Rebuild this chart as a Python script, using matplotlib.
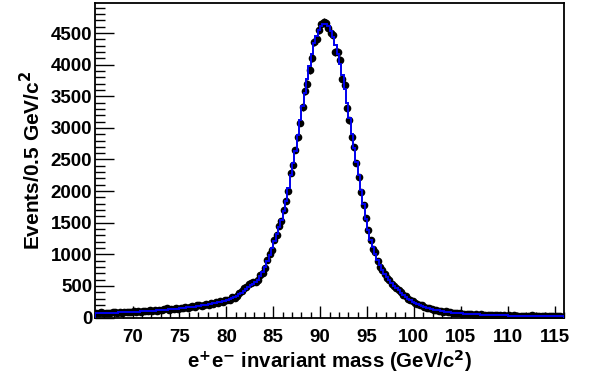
import numpy as np
import matplotlib
matplotlib.use("Agg")
import matplotlib.pyplot as plt
from matplotlib.ticker import MultipleLocator

# binning read from the point spacing: 200 bins between 66 and 116
bin_lo = 66.0
bin_hi = 116.0
n_bins = 200

# data points (events per bin)
counts = [75, 72, 80, 66, 74, 79, 70, 82,
          85, 73, 88, 77, 86, 80, 93, 84,
          95, 87, 99, 91, 104, 96, 99, 112,
          104, 116, 108, 121, 113, 129, 147, 122,
          137, 129, 146, 137, 153, 144, 162, 153,
          171, 176, 168, 190, 197, 183, 205, 211,
          200, 227, 216, 241, 231, 258, 250, 279,
          272, 284, 318, 315, 338, 385, 425, 460,
          485, 530, 548, 560,
          565, 590, 672, 700, 790, 910, 1000, 1070,
          1225, 1310, 1450, 1530, 1700, 1840, 2000, 2280,
          2410, 2650, 2850, 3080, 3330, 3580, 3700, 3915,
          4110, 4360, 4400, 4550, 4640, 4670,
          4660, 4580, 4500, 4470, 4200, 4200, 4070, 3780,
          3680, 3310, 3120, 2850, 2690, 2440, 2220, 1980,
          1775, 1570, 1380, 1220, 1090, 1030, 900, 800,
          745, 690, 620, 586, 530, 500, 460, 430,
          410, 350, 335, 290, 270, 255, 222, 215,
          190, 192, 172, 150, 143, 140, 120, 122,
          104, 110, 92, 97, 83, 86, 72, 79,
          66, 71, 63, 58, 62, 50, 57, 47,
          54, 44, 50, 40, 46, 37, 43, 34,
          41, 32, 38, 30, 36, 28, 34, 27,
          33, 25, 31, 24, 30, 23, 29, 22,
          36, 21, 27, 20, 26, 19, 25, 18,
          24, 17, 23, 16, 21, 15]

# fitted shape, drawn as the blue histogram
fit = [67, 68, 69, 70, 71, 72, 74, 75,
       77, 78, 80, 81, 83, 84, 86, 88,
       90, 92, 94, 96, 98, 100, 103, 105,
       108, 110, 113, 116, 119, 122, 125, 128,
       131, 135, 139, 142, 146, 150, 155, 159,
       164, 169, 174, 179, 185, 190, 196, 203,
       209, 216, 223, 230, 238, 247, 257, 268,
       279, 292, 307, 324, 344, 366, 395, 425,
       455, 485, 510, 535,
       560, 600, 650, 720, 800, 890, 990, 1100,
       1210, 1320, 1430, 1540, 1680, 1850, 2050, 2250,
       2440, 2640, 2880, 3120, 3340, 3550, 3770, 3980,
       4170, 4340, 4460, 4550, 4610, 4640,
       4645, 4610, 4540, 4440, 4310, 4170, 4010, 3830,
       3620, 3390, 3150, 2900, 2680, 2460, 2250, 2020,
       1790, 1560, 1380, 1230, 1110, 1000, 905, 825,
       755, 695, 640, 590, 545, 505, 468, 435,
       395, 360, 328, 298, 272, 248, 228, 210,
       194, 180, 167, 155, 145, 135, 126, 118,
       111, 104, 98, 92, 87, 82, 78, 74,
       70, 67, 64, 61, 58, 56, 53, 51,
       50, 48, 46, 44, 42, 41, 39, 38,
       37, 36, 35, 34, 33, 32, 31, 30,
       30, 29, 28, 28, 27, 26, 26, 25,
       25, 24, 24, 23, 23, 22, 22, 21,
       21, 20, 20, 19, 19, 18]

edges = np.linspace(bin_lo, bin_hi, n_bins + 1)
centers = 0.5 * (edges[:-1] + edges[1:])
counts = np.array(counts, dtype=float)
fit = np.array(fit, dtype=float)

plt.rcParams['font.family'] = ['Liberation Sans', 'DejaVu Sans']
plt.rcParams['font.weight'] = 'bold'
plt.rcParams['mathtext.default'] = 'bf'

fig = plt.figure(figsize=(5.93, 3.77), dpi=100)
fig.patch.set_facecolor('white')
ax = fig.add_axes([95 / 593, 1 - 317.5 / 377, (564 - 95) / 593, (317.5 - 3) / 377])

# data with poisson errors
ax.errorbar(centers, counts, yerr=np.sqrt(counts), fmt='o', color='black',
            markersize=4.5, elinewidth=1.0, capsize=0, zorder=2)
# blue fit histogram drawn on top, as in the reference
ax.stairs(fit, edges, color='#0000ee', linewidth=1.4, zorder=3)

ax.set_xlim(bin_lo, bin_hi)
ax.set_ylim(0, 4976)

ax.xaxis.set_major_locator(MultipleLocator(5))
ax.xaxis.set_minor_locator(MultipleLocator(1))
ax.yaxis.set_major_locator(MultipleLocator(500))
ax.yaxis.set_minor_locator(MultipleLocator(100))
ax.tick_params(axis='x', which='major', direction='in', length=9, width=1, labelsize=13.5, pad=8)
ax.tick_params(axis='x', which='minor', direction='in', length=4.5, width=1)
ax.tick_params(axis='y', which='major', direction='in', length=14, width=1, labelsize=13.5, pad=2)
ax.tick_params(axis='y', which='minor', direction='in', length=7, width=1)
for lab in ax.get_xticklabels() + ax.get_yticklabels():
    lab.set_fontweight('bold')

for sp in ax.spines.values():
    sp.set_linewidth(1.3)

ax.set_xlabel(r'e$^{+}$e$^{-}$ invariant mass (GeV/c$^{2}$)', fontsize=14.7, fontweight='bold', labelpad=2)
ax.set_ylabel(r'Events/0.5 GeV/c$^{2}$', fontsize=15, fontweight='bold', labelpad=5)

fig.savefig('out.png', dpi=100, facecolor='white')
